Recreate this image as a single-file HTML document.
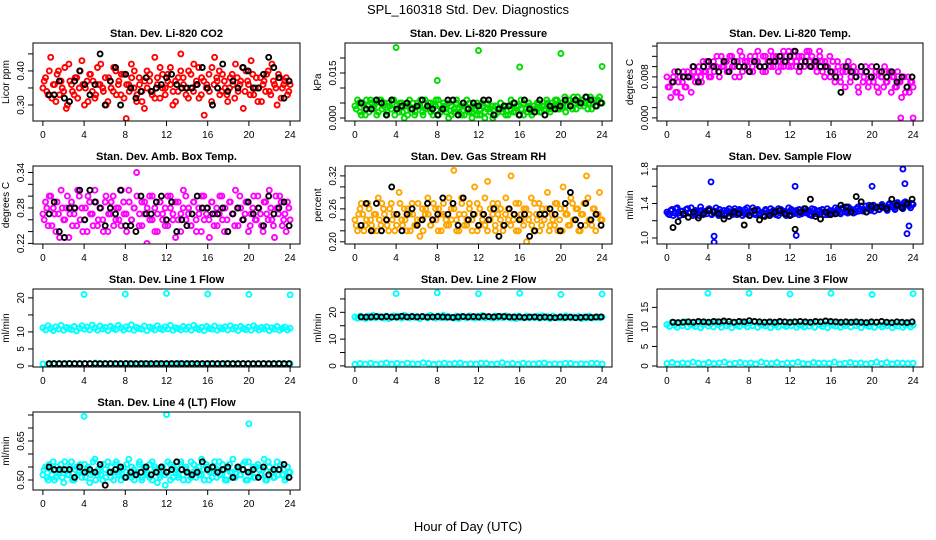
<!DOCTYPE html>
<html><head><meta charset="utf-8">
<style>
html,body{margin:0;padding:0;background:#fff;}
svg{display:block;font-family:"Liberation Sans",sans-serif;}
</style></head>
<body>
<svg id="chart" width="936" height="540" viewBox="0 0 936 540" xmlns="http://www.w3.org/2000/svg">
<rect width="936" height="540" fill="#fff"/>
<text x="468" y="14" text-anchor="middle" font-size="13">SPL_160318  Std. Dev. Diagnostics</text>
<text x="468" y="531" text-anchor="middle" font-size="13">Hour of Day (UTC)</text>
</svg>
<script>
const xTicks=[0,4,8,12,16,20,24];
const xTickLabels=['0','4','8','12','16','20','24'];

const co2Vals=[0.35,0.38,0.33,0.44,0.36,0.31,0.40,0.37,0.34,0.29,0.42,0.36,0.33,0.38,0.35,0.43,0.30,0.37,0.39,0.34,0.32,0.41,0.36,0.35,0.38,0.31,0.37,0.34,0.40,0.36,0.33,0.39,0.26,0.36,0.42,0.35,0.31,0.38,0.34,0.29,0.40,0.37,0.33,0.44,0.36,0.32,0.39,0.35,0.37,0.41,0.34,0.31,0.38,0.45,0.36,0.33,0.40,0.35,0.42,0.37,0.32,0.38,0.27,0.36,0.34,0.41,0.44,0.37,0.33,0.39,0.35,0.31,0.38,0.36,0.42,0.34,0.37,0.29,0.40,0.36,0.43,0.33,0.38,0.35,0.31,0.37,0.39,0.34,0.42,0.36,0.30,0.38,0.35,0.37,0.33,0.36];
const co2Vals2=[0.37,0.34,0.40,0.32,0.36,0.39,0.33,0.35,0.41,0.30,0.37,0.34,0.38,0.32,0.40,0.36,0.35,0.31,0.39,0.37,0.33,0.36,0.42,0.34,0.30,0.38,0.35,0.41,0.33,0.37,0.39,0.32,0.36,0.34,0.38,0.40,0.33,0.36,0.31,0.37,0.35,0.39,0.34,0.32,0.38,0.41,0.35,0.33,0.39,0.36,0.30,0.37,0.34,0.40,0.38,0.35,0.32,0.39,0.34,0.36,0.41,0.33,0.37,0.35,0.39,0.31,0.36,0.38,0.40,0.34,0.37,0.33,0.35,0.39,0.32,0.38,0.36,0.41,0.34,0.37,0.33,0.39,0.35,0.31,0.38,0.36,0.34,0.40,0.33,0.37,0.35,0.39,0.32,0.36,0.38,0.34];
const co2Black=[0.33,0.33,0.37,0.32,0.31,0.37,0.40,0.36,0.33,0.36,0.45,0.30,0.37,0.41,0.30,0.39,0.35,0.32,0.34,0.38,0.34,0.35,0.36,0.38,0.39,0.36,0.35,0.35,0.35,0.36,0.41,0.35,0.30,0.35,0.42,0.34,0.37,0.35,0.41,0.40,0.35,0.35,0.39,0.44,0.41,0.38,0.32,0.37];

const presVals=[0.004,0.006,0.002,0.005,0.001,0.004,0.006,0.003,0.005,0.002,0.006,0.004,0.001,0.005,0.003,0.006,0.004,0.002,0.005,0.000,0.004,0.006,0.003,0.001,0.005,0.004,0.002,0.006,0.003,0.005,0.001,0.004,0.006,0.002,0.005,0.003,0.000,0.004,0.002,0.005,0.003,0.001,0.004,0.006,0.002,0.000,0.003,0.005,0.001,0.004,0.002,0.005,0.003,0.000,0.004,0.002,0.005,0.003,0.001,0.004,0.006,0.002,0.004,0.001,0.003,0.005,0.002,0.004,0.001,0.003,0.005,0.002,0.004,0.003,0.005,0.002,0.004,0.006,0.003,0.005,0.004,0.002,0.006,0.004,0.007,0.003,0.005,0.006,0.004,0.007,0.005,0.003,0.006,0.004,0.007,0.005];
const presVals2=[0.003,0.005,0.001,0.004,0.006,0.002,0.005,0.004,0.001,0.006,0.003,0.005,0.002,0.004,0.006,0.001,0.003,0.005,0.002,0.004,0.001,0.003,0.005,0.002,0.004,0.006,0.001,0.003,0.005,0.002,0.004,0.006,0.001,0.003,0.004,0.002,0.005,0.001,0.003,0.006,0.002,0.004,0.001,0.003,0.005,0.002,0.004,0.001,0.003,0.005,0.000,0.003,0.002,0.004,0.001,0.003,0.005,0.002,0.004,0.001,0.003,0.005,0.002,0.004,0.006,0.001,0.003,0.005,0.002,0.004,0.003,0.005,0.002,0.004,0.006,0.003,0.005,0.004,0.006,0.003,0.005,0.007,0.004,0.006,0.003,0.005,0.007,0.004,0.006,0.005,0.003,0.007,0.005,0.004,0.006,0.005];
const presBlack=[0.005,0.003,0.003,0.006,0.005,0.001,0.006,0.003,0.004,0.005,0.003,0.004,0.006,0.004,0.003,0.001,0.003,0.006,0.006,0.001,0.005,0.003,0.005,0.004,0.006,0.006,0.001,0.003,0.004,0.004,0.005,0.001,0.006,0.003,0.002,0.006,0.001,0.004,0.003,0.004,0.006,0.004,0.006,0.005,0.007,0.006,0.004,0.005];
const presSpikeX=[4,8,12,16,20,24];
const presSpikeY=[0.0235,0.0125,0.0225,0.0170,0.0215,0.0172];

const tempVals=[0.008,0.006,0.007,0.009,0.005,0.008,0.007,0.006,0.009,0.008,0.010,0.007,0.009,0.008,0.011,0.009,0.010,0.008,0.011,0.010,0.009,0.012,0.010,0.011,0.009,0.012,0.010,0.011,0.008,0.012,0.010,0.011,0.009,0.010,0.012,0.011,0.010,0.009,0.012,0.011,0.010,0.012,0.011,0.009,0.012,0.010,0.011,0.013,0.010,0.012,0.011,0.009,0.012,0.010,0.013,0.011,0.012,0.010,0.011,0.012,0.009,0.011,0.010,0.008,0.011,0.009,0.010,0.007,0.010,0.009,0.011,0.008,0.010,0.009,0.005,0.010,0.008,0.009,0.007,0.010,0.008,0.006,0.009,0.008,0.010,0.007,0.009,0.008,0.006,0.009,0.007,0.008,0.005,0.008,0.007,0.006];
const tempVals2=[0.006,0.004,0.008,0.005,0.007,0.004,0.009,0.006,0.008,0.005,0.009,0.008,0.010,0.007,0.009,0.011,0.008,0.010,0.009,0.012,0.008,0.010,0.011,0.009,0.012,0.010,0.008,0.011,0.013,0.009,0.011,0.010,0.012,0.009,0.011,0.013,0.010,0.012,0.009,0.011,0.013,0.010,0.012,0.011,0.010,0.013,0.012,0.010,0.011,0.013,0.010,0.012,0.011,0.010,0.012,0.013,0.010,0.011,0.009,0.013,0.011,0.008,0.010,0.012,0.009,0.007,0.011,0.008,0.009,0.006,0.010,0.007,0.009,0.008,0.006,0.009,0.007,0.010,0.006,0.008,0.007,0.009,0.005,0.008,0.006,0.007,0.009,0.005,0.008,0.006,0.007,0.004,0.008,0.006,0.005,0.007];
const tempBlack=[0.007,0.009,0.008,0.008,0.010,0.007,0.010,0.011,0.010,0.009,0.011,0.009,0.011,0.010,0.010,0.009,0.011,0.010,0.010,0.011,0.011,0.012,0.011,0.012,0.013,0.010,0.011,0.010,0.011,0.010,0.010,0.009,0.008,0.005,0.010,0.009,0.008,0.010,0.009,0.008,0.010,0.009,0.008,0.009,0.007,0.008,0.006,0.008];
const tempSpikeX=[22.8,24];
const tempSpikeY=[0.0,0.0];

const ambVals=[0.27,0.29,0.25,0.30,0.28,0.24,0.27,0.31,0.26,0.28,0.23,0.29,0.27,0.25,0.30,0.28,0.26,0.24,0.29,0.27,0.31,0.25,0.28,0.26,0.29,0.24,0.27,0.30,0.26,0.28,0.25,0.29,0.27,0.31,0.26,0.28,0.34,0.25,0.29,0.27,0.22,0.30,0.26,0.28,0.24,0.29,0.27,0.25,0.30,0.28,0.26,0.23,0.29,0.27,0.31,0.26,0.28,0.25,0.29,0.24,0.27,0.30,0.26,0.28,0.23,0.29,0.27,0.25,0.30,0.26,0.28,0.24,0.29,0.27,0.31,0.25,0.28,0.26,0.29,0.24,0.27,0.30,0.26,0.28,0.25,0.29,0.27,0.31,0.26,0.23,0.28,0.30,0.25,0.27,0.29,0.26];
const ambVals2=[0.26,0.28,0.30,0.25,0.27,0.29,0.23,0.28,0.26,0.30,0.27,0.25,0.28,0.31,0.26,0.24,0.28,0.30,0.27,0.25,0.29,0.26,0.28,0.24,0.30,0.27,0.29,0.25,0.28,0.26,0.31,0.27,0.24,0.29,0.26,0.28,0.30,0.27,0.25,0.29,0.28,0.26,0.30,0.24,0.27,0.29,0.26,0.28,0.25,0.30,0.27,0.29,0.26,0.24,0.28,0.30,0.27,0.25,0.29,0.26,0.28,0.24,0.30,0.27,0.26,0.29,0.25,0.28,0.27,0.30,0.24,0.26,0.29,0.27,0.25,0.28,0.30,0.26,0.27,0.29,0.25,0.28,0.26,0.30,0.27,0.24,0.29,0.26,0.28,0.25,0.30,0.27,0.29,0.26,0.24,0.28];
const ambBlack=[0.27,0.29,0.24,0.23,0.28,0.28,0.31,0.26,0.31,0.29,0.28,0.25,0.28,0.27,0.31,0.25,0.25,0.24,0.30,0.27,0.27,0.29,0.30,0.26,0.29,0.24,0.26,0.25,0.27,0.30,0.28,0.28,0.27,0.27,0.28,0.24,0.27,0.28,0.26,0.29,0.27,0.28,0.25,0.30,0.27,0.28,0.29,0.25];

const rhVals=[0.24,0.22,0.26,0.25,0.23,0.27,0.24,0.22,0.25,0.28,0.23,0.26,0.24,0.22,0.27,0.25,0.23,0.29,0.24,0.26,0.22,0.25,0.27,0.23,0.24,0.21,0.26,0.25,0.28,0.23,0.24,0.26,0.22,0.25,0.27,0.24,0.23,0.26,0.33,0.24,0.22,0.28,0.25,0.23,0.27,0.24,0.30,0.22,0.26,0.25,0.23,0.31,0.24,0.27,0.22,0.25,0.26,0.23,0.28,0.24,0.32,0.25,0.22,0.27,0.24,0.26,0.20,0.25,0.23,0.27,0.24,0.22,0.26,0.25,0.29,0.23,0.24,0.27,0.22,0.26,0.30,0.25,0.23,0.28,0.24,0.26,0.22,0.25,0.27,0.32,0.24,0.23,0.26,0.25,0.29,0.24];
const rhVals2=[0.23,0.25,0.27,0.22,0.24,0.26,0.23,0.25,0.22,0.24,0.27,0.25,0.23,0.26,0.24,0.22,0.25,0.27,0.23,0.24,0.26,0.22,0.25,0.23,0.27,0.24,0.22,0.26,0.25,0.23,0.27,0.24,0.26,0.22,0.25,0.23,0.28,0.24,0.26,0.22,0.25,0.27,0.23,0.24,0.26,0.22,0.25,0.27,0.23,0.24,0.28,0.22,0.26,0.25,0.23,0.27,0.24,0.22,0.25,0.26,0.23,0.24,0.27,0.22,0.25,0.23,0.26,0.24,0.28,0.22,0.25,0.27,0.23,0.24,0.26,0.22,0.25,0.23,0.27,0.24,0.22,0.26,0.25,0.23,0.27,0.24,0.26,0.22,0.25,0.23,0.28,0.24,0.26,0.22,0.25,0.24];
const rhBlack=[0.23,0.27,0.22,0.27,0.22,0.24,0.30,0.25,0.22,0.25,0.26,0.23,0.24,0.27,0.24,0.25,0.28,0.25,0.27,0.23,0.28,0.24,0.25,0.23,0.25,0.24,0.26,0.21,0.23,0.26,0.25,0.24,0.25,0.21,0.22,0.25,0.25,0.26,0.25,0.22,0.27,0.29,0.24,0.23,0.27,0.24,0.25,0.23];

const flowVals=[1.30,1.27,1.33,1.29,1.35,1.26,1.31,1.28,1.34,1.30,1.26,1.32,1.29,1.36,1.27,1.31,1.33,1.28,1.30,1.35,1.26,1.30,1.32,1.28,1.34,1.29,1.31,1.27,1.33,1.30,1.28,1.35,1.26,1.31,1.29,1.33,1.27,1.30,1.32,1.28,1.34,1.29,1.31,1.26,1.33,1.30,1.28,1.35,1.27,1.31,1.29,1.33,1.28,1.30,1.32,1.27,1.34,1.29,1.31,1.28,1.33,1.30,1.27,1.32,1.29,1.35,1.31,1.28,1.33,1.30,1.36,1.32,1.29,1.34,1.31,1.37,1.33,1.30,1.38,1.34,1.31,1.36,1.33,1.39,1.35,1.32,1.40,1.36,1.33,1.41,1.37,1.34,1.42,1.38,1.35,1.39];
const flowVals2=[1.28,1.32,1.26,1.34,1.29,1.31,1.27,1.33,1.29,1.35,1.28,1.30,1.26,1.32,1.30,1.28,1.34,1.27,1.31,1.29,1.33,1.28,1.26,1.32,1.30,1.27,1.34,1.29,1.31,1.26,1.33,1.28,1.30,1.35,1.27,1.31,1.29,1.26,1.33,1.30,1.28,1.32,1.27,1.34,1.29,1.31,1.26,1.30,1.33,1.28,1.32,1.27,1.30,1.34,1.29,1.31,1.26,1.33,1.28,1.32,1.30,1.27,1.34,1.29,1.31,1.28,1.33,1.30,1.35,1.31,1.29,1.34,1.32,1.30,1.36,1.33,1.31,1.37,1.34,1.32,1.38,1.35,1.33,1.37,1.36,1.34,1.39,1.37,1.35,1.40,1.38,1.36,1.41,1.39,1.37,1.40];
const flowBlack=[1.12,1.19,1.28,1.24,1.30,1.23,1.28,1.32,1.30,1.28,1.22,1.25,1.30,1.28,1.15,1.26,1.32,1.21,1.25,1.26,1.30,1.32,1.28,1.26,1.10,1.30,1.34,1.45,1.25,1.22,1.30,1.27,1.28,1.38,1.36,1.30,1.48,1.42,1.30,1.37,1.35,1.36,1.34,1.45,1.38,1.35,1.40,1.45];
const flowSpikeX=[4.3,4.6,4.6,12.5,12.6,20,23,23.2,23.4,23.6];
const flowSpikeY=[1.65,1.02,0.95,1.60,1.03,1.60,1.80,1.63,1.05,1.14];

const l1Band=[11.2,10.6,11.8,11.0,10.4,11.5,10.9,11.9,10.5,11.3,11.0,10.7,11.6,10.3,11.1,11.8,10.8,11.4,10.6,12.0,11.2,10.5,11.7,10.9,11.3,10.4,11.6,11.0,10.7,11.9,11.2,10.6,11.5,10.9,12.1,10.5,11.3,11.0,10.8,11.7,10.4,11.4,11.1,10.6,11.8,11.0,10.7,11.5,10.9,11.9,10.5,11.2,11.0,10.6,11.6,10.8,11.4,10.5,11.9,11.1,10.7,11.3,10.4,11.6,11.0,10.8,11.7,10.5,11.2,10.9,11.5,10.6,11.8,10.9,11.3,10.4,11.6,11.0,10.7,11.4,10.5,11.8,11.1,10.6,11.3,10.9,11.5,10.4,11.2,10.8,11.6,10.5,11.0,11.4,10.6,11.1];
const l1Low=[0.6,0.5,0.7,0.6,0.5,0.8,0.6,0.5,0.7,0.6,0.9,0.5,0.6,0.7,0.5,0.6,0.8,0.6,0.5,0.7,0.6,0.5,0.7,0.6,0.5,0.6,0.8,0.5,0.7,0.6,0.5,0.6,0.7,0.5,0.6,0.8,0.6,0.5,0.7,0.6,0.5,0.6,0.7,0.5,0.6,0.7,0.5,0.6];
const l1Black=[0.7,0.7,0.7,0.7,0.7,0.7,0.7,0.7,0.7,0.7,0.7,0.7,0.7,0.7,0.7,0.7,0.7,0.7,0.7,0.7,0.7,0.7,0.7,0.7,0.7,0.7,0.7,0.7,0.7,0.7,0.7,0.7,0.7,0.7,0.7,0.7,0.7,0.7,0.7,0.7,0.7,0.7,0.7,0.7,0.7,0.7,0.7,0.7];
const l1SpikeX=[4,8,12,16,20,24];
const l1SpikeY=[21.0,21.1,21.3,21.1,21.0,20.9];

const l2Band=[18.3,17.8,18.6,18.1,17.7,18.5,18.0,18.8,17.9,18.4,18.2,17.8,18.6,17.7,18.3,18.7,18.0,18.5,17.8,18.9,18.2,17.9,18.6,18.1,18.4,17.7,18.5,18.2,17.9,18.8,18.3,17.8,18.6,18.0,18.9,17.9,18.4,18.1,17.8,18.6,17.7,18.5,18.2,17.9,18.7,18.1,17.8,18.5,18.0,18.8,17.9,18.3,18.1,17.8,18.6,18.0,18.4,17.9,18.7,18.2,17.8,18.4,17.7,18.6,18.1,17.9,18.6,17.9,18.3,18.0,18.5,17.8,18.7,18.0,18.4,17.7,18.6,18.1,17.9,18.4,17.8,18.7,18.2,17.9,18.3,18.0,18.5,17.7,18.2,17.9,18.6,17.8,18.1,18.4,17.9,18.2];
const l2Low=[0.6,0.9,0.7,1.0,0.6,0.8,1.1,0.7,0.9,0.6,1.0,0.8,0.7,1.2,0.9,0.6,0.8,1.0,0.7,0.9,1.1,0.6,0.8,0.7,1.0,0.9,0.6,0.8,1.2,0.7,0.9,0.6,1.0,0.8,0.7,0.9,1.1,0.6,0.8,0.7,1.0,0.9,0.6,0.8,0.7,1.0,0.9,0.7];
const l2Black=[18.3,18.2,18.3,18.4,18.3,18.4,18.2,18.3,18.5,18.3,18.4,18.3,18.4,18.2,18.3,18.4,18.3,18.2,18.1,18.3,18.4,18.3,18.4,18.3,18.5,18.4,18.3,18.5,18.4,18.3,18.2,18.3,18.1,18.2,18.3,18.1,18.2,18.1,18.0,18.2,18.1,18.2,18.0,18.1,18.2,18.1,18.2,18.3];
const l2SpikeX=[4,8,12,16,20,24];
const l2SpikeY=[27.0,27.3,26.9,27.1,26.7,26.8];

const l3Band=[10.6,10.1,11.2,10.4,9.9,10.9,10.3,11.3,10.0,10.7,10.5,10.1,11.0,9.8,10.6,11.2,10.2,10.8,10.0,11.4,10.6,9.9,11.1,10.3,10.7,9.8,11.0,10.4,10.1,11.3,10.6,10.0,10.9,10.3,11.4,9.9,10.7,10.4,10.2,11.1,9.8,10.8,10.5,10.0,11.2,10.4,10.1,10.9,10.3,11.3,9.9,10.6,10.4,10.0,11.0,10.2,10.8,9.9,11.3,10.5,10.1,10.7,9.8,11.0,10.4,10.2,11.1,9.9,10.6,10.3,10.9,10.0,11.2,10.3,10.7,9.8,11.0,10.4,10.1,10.8,9.9,11.2,10.5,10.0,10.7,10.3,10.9,9.8,10.6,10.2,11.0,9.9,10.4,10.8,10.0,10.5];
const l3Low=[0.6,0.9,0.5,0.8,0.6,1.0,0.7,0.5,0.9,0.6,0.8,1.0,0.5,0.7,0.9,0.6,0.8,0.5,1.0,0.7,0.6,0.9,0.5,0.8,0.7,1.0,0.6,0.5,0.9,0.7,0.8,0.6,1.0,0.5,0.7,0.9,0.6,0.8,0.5,0.7,1.0,0.6,0.9,0.5,0.8,0.7,0.6,0.7];
const l3Black=[11.2,11.1,11.2,11.3,11.2,11.4,11.3,11.2,11.4,11.3,11.5,11.4,11.2,11.4,11.3,11.6,11.4,11.3,11.2,11.3,11.2,11.4,11.3,11.2,11.3,11.4,11.3,11.2,11.4,11.3,11.5,11.4,11.3,11.2,11.3,11.2,11.3,11.2,11.1,11.3,11.2,11.4,11.2,11.1,11.3,11.2,11.1,11.3];
const l3SpikeX=[4,8,12,16,20,24];
const l3SpikeY=[18.6,18.6,18.4,18.6,18.3,18.5];

const l4Vals=[0.52,0.55,0.50,0.54,0.57,0.51,0.53,0.56,0.49,0.54,0.52,0.57,0.50,0.55,0.53,0.51,0.56,0.54,0.49,0.53,0.58,0.52,0.55,0.50,0.54,0.57,0.51,0.53,0.56,0.52,0.50,0.55,0.53,0.58,0.51,0.54,0.52,0.56,0.50,0.55,0.53,0.51,0.57,0.54,0.49,0.52,0.55,0.48,0.53,0.56,0.51,0.54,0.52,0.57,0.50,0.55,0.53,0.51,0.56,0.54,0.52,0.58,0.50,0.55,0.53,0.51,0.57,0.54,0.52,0.56,0.50,0.55,0.53,0.58,0.51,0.54,0.52,0.56,0.50,0.57,0.53,0.51,0.55,0.54,0.52,0.58,0.50,0.55,0.53,0.51,0.57,0.54,0.52,0.50,0.55,0.53];
const l4Vals2=[0.54,0.51,0.56,0.52,0.50,0.55,0.53,0.51,0.57,0.52,0.55,0.50,0.54,0.52,0.56,0.53,0.51,0.55,0.52,0.57,0.50,0.54,0.52,0.56,0.51,0.53,0.55,0.50,0.57,0.53,0.54,0.51,0.56,0.52,0.55,0.50,0.53,0.57,0.51,0.54,0.52,0.56,0.50,0.55,0.53,0.51,0.54,0.52,0.57,0.50,0.55,0.53,0.51,0.56,0.52,0.54,0.50,0.57,0.53,0.51,0.55,0.52,0.54,0.56,0.50,0.53,0.55,0.51,0.57,0.52,0.54,0.50,0.56,0.53,0.51,0.55,0.52,0.54,0.57,0.50,0.53,0.55,0.51,0.56,0.52,0.54,0.50,0.57,0.53,0.51,0.55,0.52,0.56,0.54,0.51,0.53];
const l4Black=[0.55,0.54,0.54,0.54,0.54,0.51,0.55,0.53,0.54,0.53,0.56,0.48,0.53,0.54,0.55,0.51,0.53,0.52,0.53,0.55,0.52,0.53,0.55,0.53,0.54,0.57,0.54,0.53,0.52,0.53,0.57,0.54,0.55,0.53,0.54,0.55,0.51,0.55,0.54,0.53,0.54,0.51,0.55,0.52,0.54,0.54,0.56,0.51];
const l4SpikeX=[4,12,20];
const l4SpikeY=[0.745,0.752,0.716];

const colLeft=[33,345,657];
const colWidth=[267,267,266];
const rowTop=[43,166,289,412];
const plotH=78;

const panels=[
 {id:'co2',title:'Stan. Dev. Li-820 CO2',ylab:'Licor ppm',c:0,r:0,y0:0.253,y1:0.482,ticks:[0.30,0.35,0.40,0.45],tl:['0.30','','0.40',''],color:'#ff0000',main:co2Vals,main2:co2Vals2,low:null,black:co2Black,sx:[],sy:[]},
 {id:'pressure',title:'Stan. Dev. Li-820 Pressure',ylab:'kPa',c:1,r:0,y0:-0.001,y1:0.025,ticks:[0,0.005,0.010,0.015,0.020],tl:['0.000','','','0.015',''],color:'#00dd00',main:presVals,main2:presVals2,low:null,black:presBlack,sx:presSpikeX,sy:presSpikeY},
 {id:'li820-temp',title:'Stan. Dev. Li-820 Temp.',ylab:'degrees C',c:2,r:0,y0:-0.0006,y1:0.0146,ticks:[0,0.002,0.004,0.006,0.008,0.010,0.012,0.014],tl:['0.000','','','','0.008','','',''],color:'#ff00ff',main:tempVals,main2:tempVals2,low:null,black:tempBlack,sx:tempSpikeX,sy:tempSpikeY},
 {id:'amb-box-temp',title:'Stan. Dev. Amb. Box Temp.',ylab:'degrees C',c:0,r:1,y0:0.219,y1:0.351,ticks:[0.22,0.24,0.26,0.28,0.30,0.32,0.34],tl:['0.22','','','0.28','','','0.34'],color:'#ff00ff',main:ambVals,main2:ambVals2,low:null,black:ambBlack,sx:[],sy:[]},
 {id:'gas-rh',title:'Stan. Dev. Gas Stream RH',ylab:'percent',c:1,r:1,y0:0.196,y1:0.338,ticks:[0.20,0.22,0.24,0.26,0.28,0.30,0.32],tl:['0.20','','','0.26','','','0.32'],color:'#ffa500',main:rhVals,main2:rhVals2,low:null,black:rhBlack,sx:[],sy:[]},
 {id:'sample-flow',title:'Stan. Dev. Sample Flow',ylab:'ml/min',c:2,r:1,y0:0.93,y1:1.835,ticks:[1.0,1.2,1.4,1.6,1.8],tl:['1.0','','1.4','','1.8'],color:'#0000ff',main:flowVals,main2:flowVals2,low:null,black:flowBlack,sx:flowSpikeX,sy:flowSpikeY},
 {id:'line1-flow',title:'Stan. Dev. Line 1 Flow',ylab:'ml/min',c:0,r:2,y0:-0.3,y1:22.6,ticks:[0,5,10,15,20],tl:['0','5','10','','20'],color:'#00ffff',main:l1Band,main2:null,low:l1Low,black:l1Black,sx:l1SpikeX,sy:l1SpikeY},
 {id:'line2-flow',title:'Stan. Dev. Line 2 Flow',ylab:'ml/min',c:1,r:2,y0:-0.4,y1:28.7,ticks:[0,5,10,15,20,25],tl:['0','','10','','20',''],color:'#00ffff',main:l2Band,main2:null,low:l2Low,black:l2Black,sx:l2SpikeX,sy:l2SpikeY},
 {id:'line3-flow',title:'Stan. Dev. Line 3 Flow',ylab:'ml/min',c:2,r:2,y0:-0.26,y1:19.7,ticks:[0,5,10,15],tl:['0','5','10','15'],color:'#00ffff',main:l3Band,main2:null,low:l3Low,black:l3Black,sx:l3SpikeX,sy:l3SpikeY},
 {id:'line4-flow',title:'Stan. Dev. Line 4 (LT) Flow',ylab:'ml/min',c:0,r:3,y0:0.4615,y1:0.7615,ticks:[0.50,0.55,0.60,0.65,0.70,0.75],tl:['0.50','','','0.65','',''],color:'#00ffff',main:l4Vals,main2:l4Vals2,low:null,black:l4Black,sx:l4SpikeX,sy:l4SpikeY}
];

const NS='http://www.w3.org/2000/svg';
const svg=document.getElementById('chart');
function mk(tag,attrs,parent){const e=document.createElementNS(NS,tag);for(const k in attrs)e.setAttribute(k,attrs[k]);parent.appendChild(e);return e;}

panels.forEach(p=>{
  const L=colLeft[p.c],W=colWidth[p.c],T=rowTop[p.r],H=plotH;
  const xs=v=>L+W*(v+0.96)/25.92;
  const ys=v=>T+H-(v-p.y0)/(p.y1-p.y0)*H;
  const g=mk('g',{},svg);
  
  
  const clipId='clip-'+p.id;
  const cp=mk('clipPath',{id:clipId},g);
  mk('rect',{x:L,y:T,width:W,height:H},cp);
  const pts=mk('g',{'clip-path':'url(#'+clipId+')'},g);
  function dot(x,y,color,nm,parent){
    const c=mk('circle',{cx:xs(x).toFixed(1),cy:ys(y).toFixed(1),r:2.5,fill:'none',stroke:color,'stroke-width':1.9},parent);
    
    
  }
  const n=p.main.length;
  p.main.forEach((v,i)=>dot(i*24/(n-1),v,p.color,p.id+'-point',pts));
  if(p.main2){const n2=p.main2.length;p.main2.forEach((v,i)=>dot((i+0.5)*24/n2,v,p.color,p.id+'-point',pts));}
  if(p.low){const m=p.low.length;p.low.forEach((v,i)=>dot(i*24/(m-1),v,p.color,p.id+'-low-point',pts));}
  p.sx.forEach((x,i)=>dot(x,p.sy[i],p.color,p.id+'-outlier',pts));
  const nb=p.black.length;
  p.black.forEach((v,i)=>dot(0.6+i*23.3/(nb-1),v,'#000',p.id+'-reference-point',pts));
  const box=mk('rect',{x:L,y:T,width:W,height:H,fill:'none',stroke:'#000','stroke-width':1},g);
  
  
  const title=mk('text',{x:L+W/2,y:T-6,'text-anchor':'middle','font-size':11,'font-weight':'bold'},g);
  title.textContent=p.title;
  
  
  xTicks.forEach((t,i)=>{
    const x=xs(t);
    const tk=mk('line',{x1:x,x2:x,y1:T+H,y2:T+H+5,stroke:'#000'},g);
    
    
    const lb=mk('text',{x:x,y:T+H+17,'text-anchor':'middle','font-size':10},g);
    lb.textContent=xTickLabels[i];
    
    
  });
  p.ticks.forEach((t,i)=>{
    const y=ys(t);
    const tk=mk('line',{x1:L-5,x2:L,y1:y,y2:y,stroke:'#000'},g);
    
    
    if(p.tl[i]){
      const lb=mk('text',{x:L-9,y:y,'text-anchor':'middle','font-size':10,transform:'rotate(-90 '+(L-9)+' '+y+')'},g);
      lb.textContent=p.tl[i];
      
      
    }
  });
  const yl=mk('text',{x:L-24,y:T+H/2,'text-anchor':'middle','font-size':10,transform:'rotate(-90 '+(L-24)+' '+(T+H/2)+')'},g);
  yl.textContent=p.ylab;
  
  
});
</script>
</body></html>
